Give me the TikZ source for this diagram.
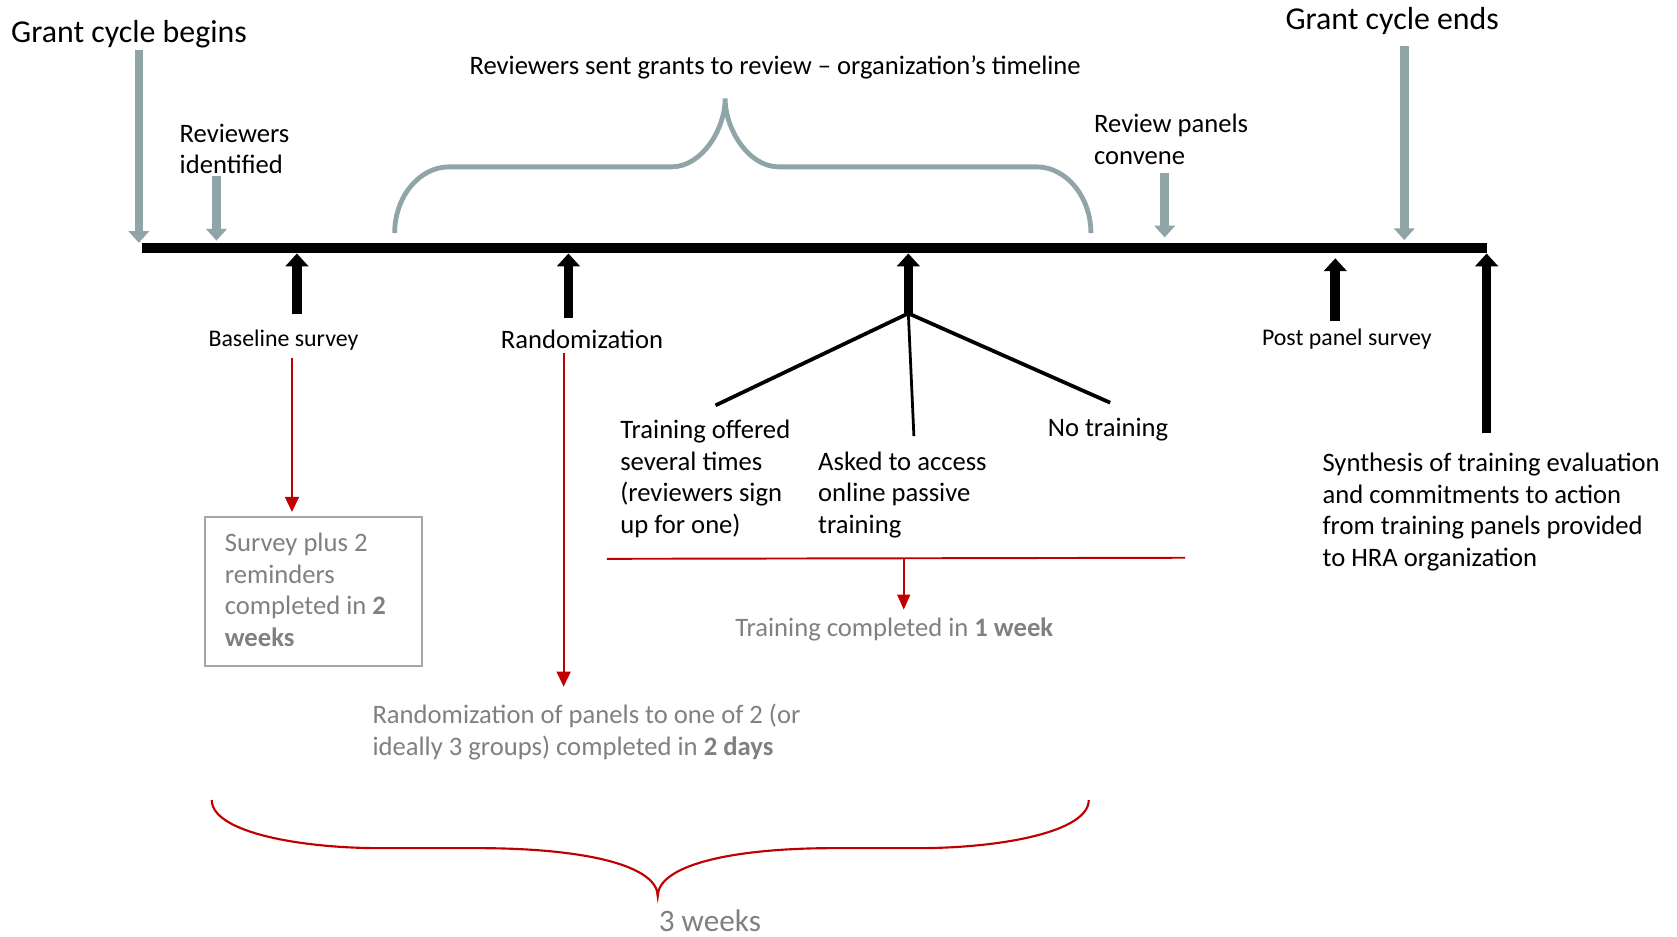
\documentclass[tikz,border=0pt]{standalone}
\usepackage{fontspec}
\setmainfont{Carlito}
\usetikzlibrary{arrows.meta}
\definecolor{tealgrey}{RGB}{143,165,168}
\definecolor{darkred}{RGB}{192,0,0}
\definecolor{txtgrey}{RGB}{128,128,128}
\definecolor{boxgrey}{RGB}{166,166,166}
\begin{document}
\begin{tikzpicture}[x=1pt,y=-1pt,
  lbl/.style={inner sep=0pt, outer sep=0pt, anchor=base west, align=left},
  bigf/.style={font=\fontsize{29.8}{35}\selectfont},
  midf/.style={font=\fontsize{24.9}{29.6}\selectfont},
  smallf/.style={font=\fontsize{22.3}{27}\selectfont},
  greyarrow/.style={draw=tealgrey, line width=8pt, -{Triangle[width=19pt,length=11pt]}},
  blackarrow/.style={draw=black, line width=9pt, -{Triangle[width=21pt,length=12pt]}},
  redarrow/.style={draw=darkred, line width=1.8pt, -{Triangle[width=13pt,length=14pt]}},
  branch/.style={draw=black, line width=3.5pt},
  greybrace/.style={draw=tealgrey, line width=4.5pt},
  redbrace/.style={draw=darkred, line width=2pt},
  timeline/.style={draw=black, line width=9.3pt},
  greybox/.style={draw=boxgrey, line width=1.6pt},
]
\useasboundingbox (0,0) rectangle (1568,876);

% timeline
\coordinate (tl0) at (133,232);
\coordinate (tl1) at (1390,232);
\draw[timeline] (tl0) -- (tl1);

% top labels (multi-line nodes are placed by the baseline of their last line)
\node[lbl,bigf] (gcb) at (10.5,40) {Grant cycle begins};
\node[lbl,bigf] (gce) at (1202,27.4) {Grant cycle ends};
\node[lbl,midf] (rsg) at (439,69.2) {Reviewers sent grants to review – organization’s timeline};
\node[lbl,midf] (rid) at (168,162.5) {Reviewers\\identified};
\node[lbl,midf] (rpc) at (1023,153.5) {Review panels\\convene};

% grey arrows
\coordinate (g1s) at (129.8,46.8); \coordinate (g1e) at (129.8,227);
\coordinate (g2s) at (202.4,164.3); \coordinate (g2e) at (202.4,225);
\coordinate (g3s) at (1089,161.5); \coordinate (g3e) at (1089,222);
\coordinate (g4s) at (1313,43); \coordinate (g4e) at (1313,224.5);
\draw[greyarrow] (g1s) -- (g1e);
\draw[greyarrow] (g2s) -- (g2e);
\draw[greyarrow] (g3s) -- (g3e);
\draw[greyarrow] (g4s) -- (g4e);

% grey brace
\coordinate (bl) at (369,218);
\coordinate (bpk) at (678,92);
\coordinate (br) at (1020,218);
\draw[greybrace] (bl) .. controls (369,184) and (392,156) .. (420,156) -- (628,156)
  .. controls (656,156) and (678,121) .. (bpk)
  .. controls (678,121) and (700,156) .. (728,156) -- (969,156)
  .. controls (997,156) and (1020,184) .. (br);

% black up arrows
\coordinate (b1s) at (277.6,294); \coordinate (b1e) at (277.6,237);
\coordinate (b2s) at (531.5,297); \coordinate (b2e) at (531.5,237);
\coordinate (b3s) at (849.3,293); \coordinate (b3e) at (849.3,237);
\coordinate (b4s) at (1248.5,300); \coordinate (b4e) at (1248.5,241.5);
\coordinate (b5s) at (1390,405); \coordinate (b5e) at (1390,237);
\draw[blackarrow] (b1s) -- (b1e);
\draw[blackarrow] (b2s) -- (b2e);
\draw[blackarrow] (b3s) -- (b3e);
\draw[blackarrow] (b4s) -- (b4e);
\draw[blackarrow] (b5s) -- (b5e);

% branches
\coordinate (brl) at (669,379);
\coordinate (brm) at (854.5,407.7);
\coordinate (brr) at (1038,376.5);
\draw[branch] (b3s) -- (brl);
\draw[branch, line width=2.6pt] (b3s) -- (brm);
\draw[branch] (b3s) -- (brr);

% labels under timeline
\node[lbl,smallf] (bsv) at (195,324) {Baseline survey};
\node[lbl,midf] (rnd) at (468.4,325.7) {Randomization};
\node[lbl,smallf] (pps) at (1180,322.6) {Post panel survey};
\node[lbl,midf] (tro) at (580,498.7) {Training offered\\several times\\(reviewers sign\\up for one)};
\node[lbl,midf] (ata) at (765,498.7) {Asked to access\\online passive\\training};
\node[lbl,midf] (nt) at (979.7,407.7) {No training};
\node[lbl,midf] (syn) at (1236.6,529.8) {Synthesis of training evaluation\\and commitments to action\\from training panels provided\\to HRA organization};

% red arrows and texts
\coordinate (r1s) at (273,335); \coordinate (r1e) at (273,478.6);
\draw[redarrow] (r1s) -- (r1e);
\draw[greybox] (191.6,483.6) rectangle (394.8,622.7);
\node[lbl,midf,text=txtgrey] (sbox) at (210.2,604.6) {Survey plus 2\\reminders\\completed in \textbf{2}\\\textbf{weeks}};

\coordinate (r2s) at (527,330); \coordinate (r2e) at (527,642);
\draw[redarrow] (r2s) -- (r2e);
\node[lbl,midf,text=txtgrey] (rop) at (348.3,706) {Randomization of panels to one of 2 (or\\ideally 3 groups) completed in \textbf{2 days}};

\coordinate (rl0) at (567.5,522.5);
\coordinate (rl1) at (1108,521.5);
\draw[darkred, line width=1.8pt] (rl0) -- (rl1);
\coordinate (r3s) at (845,522); \coordinate (r3e) at (845,570);
\draw[redarrow, -{Triangle[width=12pt,length=14pt]}] (r3s) -- (r3e);
\node[lbl,midf,text=txtgrey] (tcw) at (687.5,595.3) {Training completed in \textbf{1 week}};

% bottom red brace
\coordinate (rb0) at (198,748);
\coordinate (rbt) at (615,838);
\coordinate (rb1) at (1018,748);
\draw[redbrace] (rb0) .. controls (198,778) and (280,793) .. (355,793) -- (446,793)
  .. controls (550,793) and (615,810) .. (rbt)
  .. controls (615,810) and (680,793) .. (780,793) -- (859,793)
  .. controls (935,793) and (1018,778) .. (rb1);
\node[lbl,font=\fontsize{29.2}{35}\selectfont,text=txtgrey] (thw) at (616,871) {3 weeks};
\end{tikzpicture}
\end{document}
